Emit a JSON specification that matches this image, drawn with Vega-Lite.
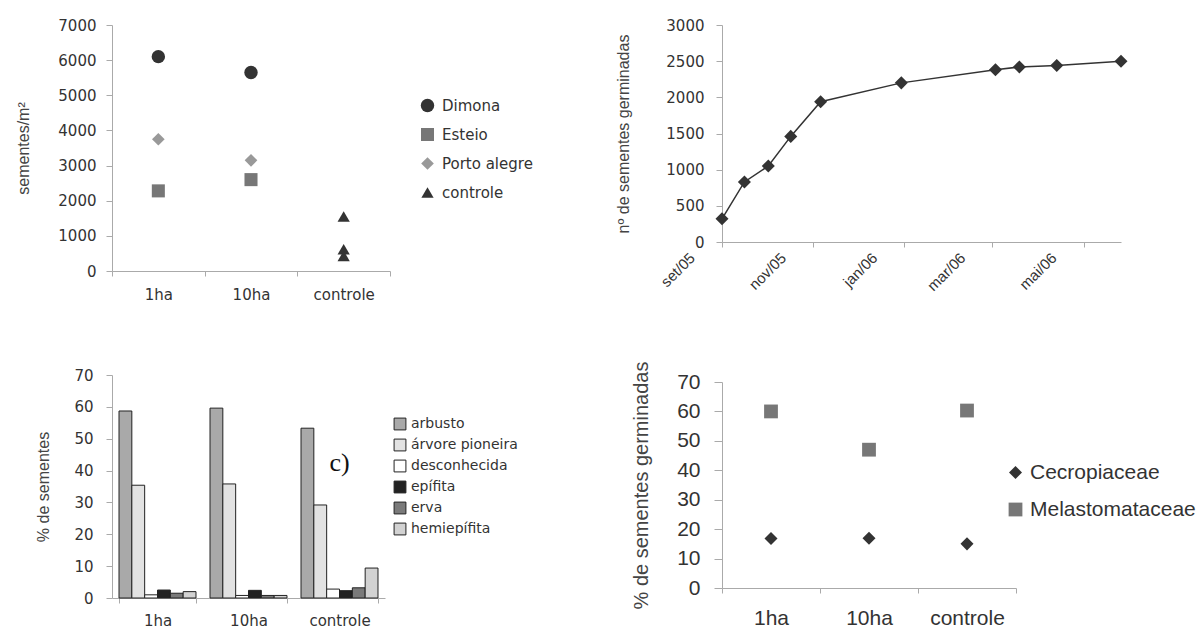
{
  "$schema": "https://vega.github.io/schema/vega-lite/v6.json",
  "background": "white",
  "padding": {"left": 15, "top": 18, "right": 0, "bottom": 0},
  "config": {
    "view": {"stroke": null},
    "font": "DejaVu Sans",
    "axis": {"grid": false, "domainColor": "#aaa", "tickColor": "#aaa", "labelColor": "#333", "titleColor": "#444", "titleFontWeight": "normal", "titleFont": "Liberation Sans", "labelOverlap": false},
    "legend": {"labelColor": "#333", "padding": 0, "labelLimit": 300}
  },
  "resolve": {
    "scale": {"color": "independent", "shape": "independent", "size": "independent", "fill": "independent"},
    "legend": {"color": "independent", "shape": "independent", "size": "independent", "fill": "independent"}
  },
  "datasets": {
    "a": [
      {"local": "1ha", "serie": "Dimona", "v": 6100},
      {"local": "1ha", "serie": "Esteio", "v": 2280},
      {"local": "1ha", "serie": "Porto alegre", "v": 3750},
      {"local": "10ha", "serie": "Dimona", "v": 5650},
      {"local": "10ha", "serie": "Esteio", "v": 2600},
      {"local": "10ha", "serie": "Porto alegre", "v": 3150},
      {"local": "controle", "serie": "controle", "v": 1550},
      {"local": "controle", "serie": "controle", "v": 620},
      {"local": "controle", "serie": "controle", "v": 430}
    ],
    "b": [
      {"data": "2005-09-01", "n": 320},
      {"data": "2005-09-16", "n": 830},
      {"data": "2005-10-02", "n": 1050},
      {"data": "2005-10-17", "n": 1460},
      {"data": "2005-11-06", "n": 1940},
      {"data": "2005-12-30", "n": 2200},
      {"data": "2006-03-03", "n": 2380},
      {"data": "2006-03-19", "n": 2420},
      {"data": "2006-04-13", "n": 2440},
      {"data": "2006-05-26", "n": 2500}
    ],
    "c": [
      {"local": "1ha", "tipo": "arbusto", "p": 58.7},
      {"local": "1ha", "tipo": "árvore pioneira", "p": 35.4},
      {"local": "1ha", "tipo": "desconhecida", "p": 1.0},
      {"local": "1ha", "tipo": "epífita", "p": 2.5},
      {"local": "1ha", "tipo": "erva", "p": 1.5},
      {"local": "1ha", "tipo": "hemiepífita", "p": 2.0},
      {"local": "10ha", "tipo": "arbusto", "p": 59.6},
      {"local": "10ha", "tipo": "árvore pioneira", "p": 35.8},
      {"local": "10ha", "tipo": "desconhecida", "p": 0.8},
      {"local": "10ha", "tipo": "epífita", "p": 2.4},
      {"local": "10ha", "tipo": "erva", "p": 0.8},
      {"local": "10ha", "tipo": "hemiepífita", "p": 0.8},
      {"local": "controle", "tipo": "arbusto", "p": 53.3},
      {"local": "controle", "tipo": "árvore pioneira", "p": 29.2},
      {"local": "controle", "tipo": "desconhecida", "p": 2.8},
      {"local": "controle", "tipo": "epífita", "p": 2.3},
      {"local": "controle", "tipo": "erva", "p": 3.2},
      {"local": "controle", "tipo": "hemiepífita", "p": 9.4}
    ],
    "d": [
      {"local": "1ha", "familia": "Cecropiaceae", "p": 16.8},
      {"local": "1ha", "familia": "Melastomataceae", "p": 60},
      {"local": "10ha", "familia": "Cecropiaceae", "p": 16.9},
      {"local": "10ha", "familia": "Melastomataceae", "p": 47},
      {"local": "controle", "familia": "Cecropiaceae", "p": 15},
      {"local": "controle", "familia": "Melastomataceae", "p": 60.3}
    ]
  },
  "columns": 2,
  "spacing": {"row": 59, "column": 82},
  "concat": [
    {
      "width": 278,
      "height": 246,
      "data": {"name": "a"},
      "mark": {"type": "point", "filled": true, "opacity": 1},
      "encoding": {
        "x": {"field": "local", "type": "nominal", "sort": ["1ha", "10ha", "controle"], "scale": {"paddingInner": 0, "paddingOuter": 0},
          "axis": {"title": null, "labelAngle": 0, "tickBand": "extent", "labelFontSize": 15, "tickSize": 5, "labelPadding": 11}},
        "y": {"field": "v", "type": "quantitative", "scale": {"domain": [0, 7000]},
          "axis": {"title": "sementes/m²", "values": [0, 1000, 2000, 3000, 4000, 5000, 6000, 7000], "format": "d", "labelFontSize": 15, "tickSize": 6, "labelPadding": 10, "titleFontSize": 16, "titlePadding": 26}},
        "color": {"field": "serie", "type": "nominal", "scale": {"domain": ["Dimona", "Esteio", "Porto alegre", "controle"], "range": ["#333333", "#777777", "#999999", "#333333"]},
          "legend": {"title": null, "orient": "none", "legendX": 308, "legendY": 73, "labelFontSize": 15, "rowPadding": 13, "labelOffset": 7, "symbolSize": 150}},
        "shape": {"field": "serie", "type": "nominal", "scale": {"domain": ["Dimona", "Esteio", "Porto alegre", "controle"], "range": ["circle", "square", "diamond", "triangle-up"]},
          "legend": {"title": null, "orient": "none", "legendX": 308, "legendY": 73, "labelFontSize": 15, "rowPadding": 13, "labelOffset": 7, "symbolSize": 150}},
        "size": {"field": "serie", "type": "nominal", "scale": {"domain": ["Dimona", "Esteio", "Porto alegre", "controle"], "range": [180, 150, 140, 190]}, "legend": null}
      }
    },
    {
      "width": 399,
      "height": 217,
      "data": {"name": "b"},
      "encoding": {
        "x": {"field": "data", "type": "temporal",
          "scale": {"type": "utc", "domain": [{"year": 2005, "month": 9, "date": 1, "utc": true}, {"year": 2006, "month": 5, "date": 26, "utc": true}]},
          "axis": {"title": null,
            "values": [{"year": 2005, "month": 9, "date": 1, "utc": true}, {"year": 2005, "month": 11, "date": 1, "utc": true}, {"year": 2006, "month": 1, "date": 1, "utc": true}, {"year": 2006, "month": 3, "date": 1, "utc": true}, {"year": 2006, "month": 5, "date": 1, "utc": true}],
            "labelExpr": "['jan','fev','mar','abr','mai','jun','jul','ago','set','out','nov','dez'][utcmonth(datum.value)] + '/' + utcFormat(datum.value, '%y')",
            "labelAngle": -45, "labelFont": "Liberation Sans", "labelFontSize": 15, "tickSize": 5, "labelOffset": -35, "labelPadding": 3}},
        "y": {"field": "n", "type": "quantitative", "scale": {"domain": [0, 3000]},
          "axis": {"title": "nº de sementes germinadas", "values": [0, 500, 1000, 1500, 2000, 2500, 3000], "format": "d", "labelFontSize": 15, "tickSize": 6, "labelPadding": 12, "titleFontSize": 16, "titlePadding": 34}}
      },
      "layer": [
        {"mark": {"type": "line", "color": "#333333", "strokeWidth": 1.5}},
        {"mark": {"type": "point", "shape": "diamond", "filled": true, "color": "#333333", "size": 170, "opacity": 1}}
      ]
    },
    {
      "width": 273,
      "height": 223,
      "layer": [
        {
          "data": {"name": "c"},
          "mark": {"type": "bar", "stroke": "#222222", "strokeWidth": 1},
          "encoding": {
            "x": {"field": "local", "type": "nominal", "sort": ["1ha", "10ha", "controle"], "scale": {"paddingInner": 0.154, "paddingOuter": 0.077},
              "axis": {"title": null, "labelAngle": 0, "tickBand": "extent", "labelFontSize": 15, "tickSize": 5, "labelPadding": 10}},
            "xOffset": {"field": "tipo", "type": "nominal", "sort": ["arbusto", "árvore pioneira", "desconhecida", "epífita", "erva", "hemiepífita"], "scale": {"paddingInner": 0, "paddingOuter": 0}},
            "y": {"field": "p", "type": "quantitative", "scale": {"domain": [0, 70]},
              "axis": {"title": "% de sementes", "values": [0, 10, 20, 30, 40, 50, 60, 70], "labelFontSize": 15, "tickSize": 6, "labelPadding": 13, "titleFontSize": 16, "titlePadding": 22}},
            "fill": {"field": "tipo", "type": "nominal",
              "scale": {"domain": ["arbusto", "árvore pioneira", "desconhecida", "epífita", "erva", "hemiepífita"], "range": ["#a9a9a9", "#e2e2e2", "#ffffff", "#222222", "#7a7a7a", "#d2d2d2"]},
              "legend": {"title": null, "orient": "none", "legendX": 281, "legendY": 42, "labelFontSize": 14, "rowPadding": 5, "labelOffset": 4, "symbolType": "square", "symbolSize": 140, "symbolStrokeColor": "#222222", "symbolStrokeWidth": 1}}
          }
        },
        {
          "data": {"values": [{}]},
          "mark": {"type": "text", "text": "c)", "font": "Liberation Serif", "fontSize": 26, "color": "#111111"},
          "encoding": {
            "x": {"datum": "controle", "type": "nominal",
              "axis": {"title": null, "labelAngle": 0, "tickBand": "extent", "labelFontSize": 15, "tickSize": 5, "labelPadding": 10}},
            "y": {"datum": 42.5, "type": "quantitative",
              "axis": {"title": "% de sementes", "values": [0, 10, 20, 30, 40, 50, 60, 70], "labelFontSize": 15, "tickSize": 6, "labelPadding": 13, "titleFontSize": 16, "titlePadding": 22}}
          }
        }
      ]
    },
    {
      "width": 294,
      "height": 213,
      "data": {"name": "d"},
      "mark": {"type": "point", "filled": true, "opacity": 1},
      "encoding": {
        "x": {"field": "local", "type": "nominal", "sort": ["1ha", "10ha", "controle"], "scale": {"paddingInner": 0, "paddingOuter": 0},
          "axis": {"title": null, "labelAngle": 0, "tickBand": "extent", "labelFont": "Liberation Sans", "labelFontSize": 21, "tickSize": 5, "labelPadding": 14}},
        "y": {"field": "p", "type": "quantitative", "scale": {"domain": [0, 70], "range": [213, 7]},
          "axis": {"title": "% de sementes germinadas", "values": [0, 10, 20, 30, 40, 50, 60, 70], "labelFont": "Liberation Sans", "labelFontSize": 21, "tickSize": 8, "labelPadding": 14, "titleFontSize": 20, "titlePadding": 25}},
        "color": {"field": "familia", "type": "nominal", "scale": {"domain": ["Cecropiaceae", "Melastomataceae"], "range": ["#333333", "#777777"]},
          "legend": {"title": null, "orient": "none", "legendX": 283, "legendY": 87, "labelFont": "Liberation Sans", "labelFontSize": 21, "rowPadding": 15, "labelOffset": 4, "symbolSize": 170}},
        "shape": {"field": "familia", "type": "nominal", "scale": {"domain": ["Cecropiaceae", "Melastomataceae"], "range": ["diamond", "square"]},
          "legend": {"title": null, "orient": "none", "legendX": 283, "legendY": 87, "labelFont": "Liberation Sans", "labelFontSize": 21, "rowPadding": 15, "labelOffset": 4, "symbolSize": 170}},
        "size": {"field": "familia", "type": "nominal", "scale": {"domain": ["Cecropiaceae", "Melastomataceae"], "range": [170, 190]}, "legend": null}
      }
    }
  ]
}
